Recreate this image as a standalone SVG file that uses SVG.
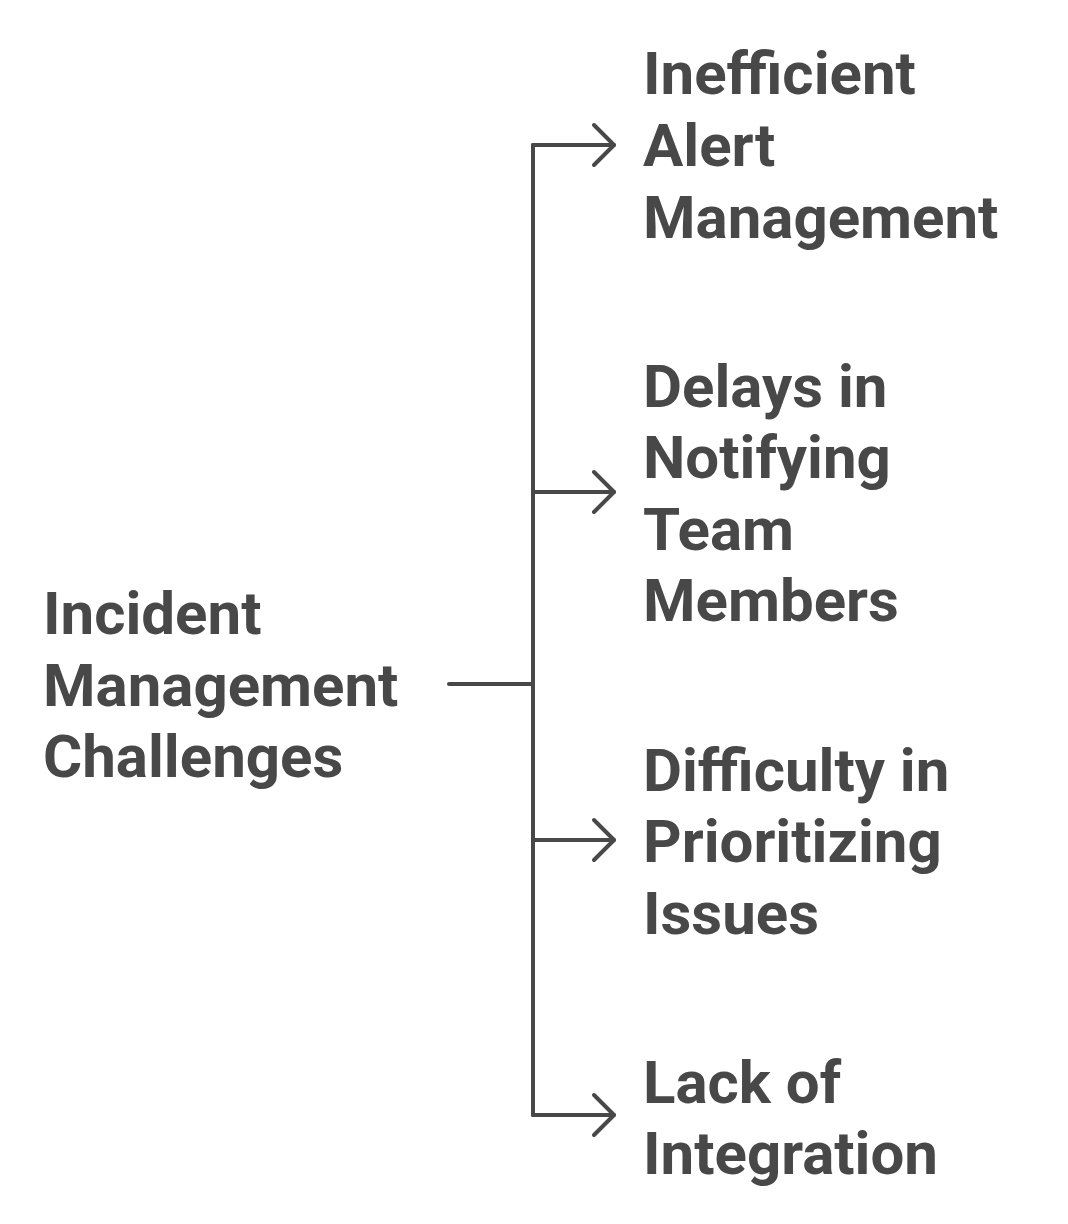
<svg xmlns="http://www.w3.org/2000/svg" width="1068" height="1224" viewBox="0 0 1068 1224">
<style>
.t{font-family:Roboto,"Liberation Sans",sans-serif;font-weight:700;font-size:60px;fill:#484848}
.c{fill:none;stroke:#484848;stroke-width:4;stroke-linecap:round;stroke-linejoin:round}
</style>
<defs>
<marker id="arr" markerUnits="userSpaceOnUse" markerWidth="30" markerHeight="48" refX="24" refY="24" orient="auto" viewBox="0 0 30 48">
<path d="M4 4 L24 24 L4 44" fill="none" stroke="#484848" stroke-width="4" stroke-linecap="round" stroke-linejoin="round"/>
</marker>
</defs>
<rect width="1068" height="1224" fill="#ffffff"/>
<g id="connectors">
<path class="c" d="M449 684 H533"/>
<path class="c" d="M533 145 V1115"/>
<path class="c" d="M533 145 H614" marker-end="url(#arr)"/>
<path class="c" d="M533 492 H614" marker-end="url(#arr)"/>
<path class="c" d="M533 840 H614" marker-end="url(#arr)"/>
<path class="c" d="M533 1115 H614" marker-end="url(#arr)"/>
</g>
<g id="root">
<text class="t" x="43" y="634">Incident</text>
<text class="t" x="43" y="706">Management</text>
<text class="t" x="43" y="777">Challenges</text>
</g>
<g id="n1">
<text class="t" x="643" y="94">Inefficient</text>
<text class="t" x="643" y="166">Alert</text>
<text class="t" x="643" y="238">Management</text>
</g>
<g id="n2">
<text class="t" x="643" y="407">Delays in</text>
<text class="t" x="643" y="478">Notifying</text>
<text class="t" x="643" y="550">Team</text>
<text class="t" x="643" y="621">Members</text>
</g>
<g id="n3">
<text class="t" x="643" y="791">Difficulty in</text>
<text class="t" x="643" y="862">Prioritizing</text>
<text class="t" x="643" y="934">Issues</text>
</g>
<g id="n4">
<text class="t" x="643" y="1103">Lack of</text>
<text class="t" x="643" y="1174">Integration</text>
</g>
</svg>
